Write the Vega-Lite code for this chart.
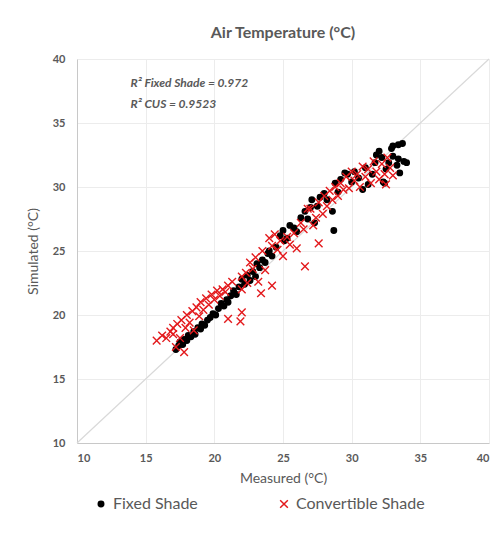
{
  "$schema": "https://vega.github.io/schema/vega-lite/v6.json",
  "width": 412,
  "height": 384,
  "autosize": "none",
  "padding": {"left": 77, "top": 59, "right": 8, "bottom": 94},
  "background": "white",
  "title": {"text": "Air Temperature (°C)", "fontSize": 16, "font": "Lato", "fontWeight": "bold", "color": "#595959", "anchor": "middle", "offset": 12},
  "config": {
    "font": "Lato",
    "view": {"stroke": null},
    "axis": {"gridColor": "#ececec", "domainColor": "#c8c8c8", "ticks": false, "labelColor": "#595959", "labelFont": "Lato", "labelFontWeight": "bold", "labelFontSize": 11, "titleColor": "#595959", "titleFont": "Lato", "titleFontWeight": "normal", "titleFontSize": 14}
  },
  "datasets": {
    "points": [
      {"series": "Fixed Shade", "measured": 17.2, "simulated": 17.3},
      {"series": "Fixed Shade", "measured": 17.4, "simulated": 17.6},
      {"series": "Fixed Shade", "measured": 17.5, "simulated": 17.9},
      {"series": "Fixed Shade", "measured": 17.7, "simulated": 17.7},
      {"series": "Fixed Shade", "measured": 17.8, "simulated": 18.1},
      {"series": "Fixed Shade", "measured": 18.0, "simulated": 18.0},
      {"series": "Fixed Shade", "measured": 18.1, "simulated": 18.4},
      {"series": "Fixed Shade", "measured": 18.3, "simulated": 18.3},
      {"series": "Fixed Shade", "measured": 18.5, "simulated": 18.7},
      {"series": "Fixed Shade", "measured": 18.6, "simulated": 18.5},
      {"series": "Fixed Shade", "measured": 18.8, "simulated": 19.0},
      {"series": "Fixed Shade", "measured": 19.0, "simulated": 18.9},
      {"series": "Fixed Shade", "measured": 19.1, "simulated": 19.3},
      {"series": "Fixed Shade", "measured": 19.3, "simulated": 19.2},
      {"series": "Fixed Shade", "measured": 19.5, "simulated": 19.6},
      {"series": "Fixed Shade", "measured": 19.7, "simulated": 19.8},
      {"series": "Fixed Shade", "measured": 19.9, "simulated": 20.1},
      {"series": "Fixed Shade", "measured": 20.1, "simulated": 20.0},
      {"series": "Fixed Shade", "measured": 20.3, "simulated": 20.5},
      {"series": "Fixed Shade", "measured": 20.5, "simulated": 20.9},
      {"series": "Fixed Shade", "measured": 20.7, "simulated": 20.7},
      {"series": "Fixed Shade", "measured": 20.9, "simulated": 21.2},
      {"series": "Fixed Shade", "measured": 21.0, "simulated": 21.0},
      {"series": "Fixed Shade", "measured": 21.2, "simulated": 21.5},
      {"series": "Fixed Shade", "measured": 21.4, "simulated": 21.9},
      {"series": "Fixed Shade", "measured": 21.6, "simulated": 21.6},
      {"series": "Fixed Shade", "measured": 21.8, "simulated": 22.2},
      {"series": "Fixed Shade", "measured": 22.0, "simulated": 22.8},
      {"series": "Fixed Shade", "measured": 22.2, "simulated": 22.4},
      {"series": "Fixed Shade", "measured": 22.4, "simulated": 23.1},
      {"series": "Fixed Shade", "measured": 22.6, "simulated": 22.7},
      {"series": "Fixed Shade", "measured": 22.8, "simulated": 23.4},
      {"series": "Fixed Shade", "measured": 23.0, "simulated": 23.0},
      {"series": "Fixed Shade", "measured": 23.1, "simulated": 24.0},
      {"series": "Fixed Shade", "measured": 23.3, "simulated": 23.7},
      {"series": "Fixed Shade", "measured": 23.5, "simulated": 24.3},
      {"series": "Fixed Shade", "measured": 23.7, "simulated": 24.1},
      {"series": "Fixed Shade", "measured": 23.9, "simulated": 24.8},
      {"series": "Fixed Shade", "measured": 24.0, "simulated": 25.0},
      {"series": "Fixed Shade", "measured": 24.2, "simulated": 24.6},
      {"series": "Fixed Shade", "measured": 24.5, "simulated": 25.3},
      {"series": "Fixed Shade", "measured": 24.8, "simulated": 26.2},
      {"series": "Fixed Shade", "measured": 25.0, "simulated": 26.6},
      {"series": "Fixed Shade", "measured": 25.1, "simulated": 25.8},
      {"series": "Fixed Shade", "measured": 25.3, "simulated": 26.0},
      {"series": "Fixed Shade", "measured": 25.5, "simulated": 27.0},
      {"series": "Fixed Shade", "measured": 25.8, "simulated": 26.8},
      {"series": "Fixed Shade", "measured": 26.0, "simulated": 26.5},
      {"series": "Fixed Shade", "measured": 26.3, "simulated": 27.6},
      {"series": "Fixed Shade", "measured": 26.6, "simulated": 28.1},
      {"series": "Fixed Shade", "measured": 26.8, "simulated": 27.5},
      {"series": "Fixed Shade", "measured": 27.0, "simulated": 28.4},
      {"series": "Fixed Shade", "measured": 27.1, "simulated": 29.0},
      {"series": "Fixed Shade", "measured": 27.3, "simulated": 27.2},
      {"series": "Fixed Shade", "measured": 27.5, "simulated": 28.5},
      {"series": "Fixed Shade", "measured": 27.7, "simulated": 29.2},
      {"series": "Fixed Shade", "measured": 28.0, "simulated": 29.5},
      {"series": "Fixed Shade", "measured": 28.2, "simulated": 29.0},
      {"series": "Fixed Shade", "measured": 28.6, "simulated": 28.1},
      {"series": "Fixed Shade", "measured": 28.7, "simulated": 26.6},
      {"series": "Fixed Shade", "measured": 28.8, "simulated": 30.3},
      {"series": "Fixed Shade", "measured": 29.0, "simulated": 29.6},
      {"series": "Fixed Shade", "measured": 29.2, "simulated": 30.6},
      {"series": "Fixed Shade", "measured": 29.5, "simulated": 31.1},
      {"series": "Fixed Shade", "measured": 29.7, "simulated": 31.0},
      {"series": "Fixed Shade", "measured": 30.0, "simulated": 30.4},
      {"series": "Fixed Shade", "measured": 30.2, "simulated": 31.2},
      {"series": "Fixed Shade", "measured": 30.5, "simulated": 30.7},
      {"series": "Fixed Shade", "measured": 30.8, "simulated": 29.8},
      {"series": "Fixed Shade", "measured": 31.0, "simulated": 31.5},
      {"series": "Fixed Shade", "measured": 31.2, "simulated": 30.2},
      {"series": "Fixed Shade", "measured": 31.5, "simulated": 31.0},
      {"series": "Fixed Shade", "measured": 31.7, "simulated": 31.9},
      {"series": "Fixed Shade", "measured": 31.8, "simulated": 32.5},
      {"series": "Fixed Shade", "measured": 32.0, "simulated": 32.8},
      {"series": "Fixed Shade", "measured": 32.2, "simulated": 32.3},
      {"series": "Fixed Shade", "measured": 32.4, "simulated": 30.3},
      {"series": "Fixed Shade", "measured": 32.5, "simulated": 31.4},
      {"series": "Fixed Shade", "measured": 32.7, "simulated": 31.9},
      {"series": "Fixed Shade", "measured": 32.9, "simulated": 33.0},
      {"series": "Fixed Shade", "measured": 33.0, "simulated": 33.2},
      {"series": "Fixed Shade", "measured": 33.0, "simulated": 32.4},
      {"series": "Fixed Shade", "measured": 33.3, "simulated": 31.7},
      {"series": "Fixed Shade", "measured": 33.5, "simulated": 31.1},
      {"series": "Fixed Shade", "measured": 33.4, "simulated": 32.2},
      {"series": "Fixed Shade", "measured": 33.7, "simulated": 33.4},
      {"series": "Fixed Shade", "measured": 33.4, "simulated": 33.3},
      {"series": "Fixed Shade", "measured": 34.0, "simulated": 31.9},
      {"series": "Fixed Shade", "measured": 33.8, "simulated": 32.0},
      {"series": "Fixed Shade", "measured": 32.3, "simulated": 30.4},
      {"series": "Convertible Shade", "measured": 15.8, "simulated": 18.0},
      {"series": "Convertible Shade", "measured": 16.2, "simulated": 18.4},
      {"series": "Convertible Shade", "measured": 16.5, "simulated": 18.2},
      {"series": "Convertible Shade", "measured": 16.8, "simulated": 18.7},
      {"series": "Convertible Shade", "measured": 17.0, "simulated": 18.5},
      {"series": "Convertible Shade", "measured": 17.0, "simulated": 19.0},
      {"series": "Convertible Shade", "measured": 17.2, "simulated": 17.5},
      {"series": "Convertible Shade", "measured": 17.3, "simulated": 19.3},
      {"series": "Convertible Shade", "measured": 17.5, "simulated": 18.2},
      {"series": "Convertible Shade", "measured": 17.6, "simulated": 19.6},
      {"series": "Convertible Shade", "measured": 17.8, "simulated": 17.1},
      {"series": "Convertible Shade", "measured": 17.9, "simulated": 19.0},
      {"series": "Convertible Shade", "measured": 18.0, "simulated": 20.0},
      {"series": "Convertible Shade", "measured": 18.2, "simulated": 19.4},
      {"series": "Convertible Shade", "measured": 18.4, "simulated": 20.3},
      {"series": "Convertible Shade", "measured": 18.5, "simulated": 18.8},
      {"series": "Convertible Shade", "measured": 18.7, "simulated": 20.6},
      {"series": "Convertible Shade", "measured": 18.9, "simulated": 19.9},
      {"series": "Convertible Shade", "measured": 19.0, "simulated": 21.0},
      {"series": "Convertible Shade", "measured": 19.2, "simulated": 20.4},
      {"series": "Convertible Shade", "measured": 19.4, "simulated": 21.3},
      {"series": "Convertible Shade", "measured": 19.6, "simulated": 20.8},
      {"series": "Convertible Shade", "measured": 19.8, "simulated": 21.6},
      {"series": "Convertible Shade", "measured": 20.0, "simulated": 21.2},
      {"series": "Convertible Shade", "measured": 20.2, "simulated": 21.9},
      {"series": "Convertible Shade", "measured": 20.4, "simulated": 21.5},
      {"series": "Convertible Shade", "measured": 20.6, "simulated": 22.0},
      {"series": "Convertible Shade", "measured": 20.8, "simulated": 21.8},
      {"series": "Convertible Shade", "measured": 21.0, "simulated": 22.3},
      {"series": "Convertible Shade", "measured": 21.0, "simulated": 19.7},
      {"series": "Convertible Shade", "measured": 21.3, "simulated": 22.6},
      {"series": "Convertible Shade", "measured": 21.9, "simulated": 19.5},
      {"series": "Convertible Shade", "measured": 22.0, "simulated": 20.2},
      {"series": "Convertible Shade", "measured": 22.0, "simulated": 22.0},
      {"series": "Convertible Shade", "measured": 22.0, "simulated": 23.0},
      {"series": "Convertible Shade", "measured": 22.3, "simulated": 23.3},
      {"series": "Convertible Shade", "measured": 22.4, "simulated": 22.5},
      {"series": "Convertible Shade", "measured": 22.6, "simulated": 24.1},
      {"series": "Convertible Shade", "measured": 22.8, "simulated": 23.6},
      {"series": "Convertible Shade", "measured": 23.0, "simulated": 24.5},
      {"series": "Convertible Shade", "measured": 23.2, "simulated": 22.6},
      {"series": "Convertible Shade", "measured": 23.4, "simulated": 21.7},
      {"series": "Convertible Shade", "measured": 23.5, "simulated": 25.0},
      {"series": "Convertible Shade", "measured": 23.7, "simulated": 23.5},
      {"series": "Convertible Shade", "measured": 24.2, "simulated": 22.3},
      {"series": "Convertible Shade", "measured": 24.0, "simulated": 26.0},
      {"series": "Convertible Shade", "measured": 24.2, "simulated": 25.4},
      {"series": "Convertible Shade", "measured": 24.4, "simulated": 26.3},
      {"series": "Convertible Shade", "measured": 24.6, "simulated": 25.1},
      {"series": "Convertible Shade", "measured": 24.8, "simulated": 25.8},
      {"series": "Convertible Shade", "measured": 25.0, "simulated": 24.6},
      {"series": "Convertible Shade", "measured": 25.3, "simulated": 26.1},
      {"series": "Convertible Shade", "measured": 25.5, "simulated": 25.5},
      {"series": "Convertible Shade", "measured": 25.8, "simulated": 26.4},
      {"series": "Convertible Shade", "measured": 26.0, "simulated": 25.2},
      {"series": "Convertible Shade", "measured": 26.3, "simulated": 27.2},
      {"series": "Convertible Shade", "measured": 26.5, "simulated": 26.7},
      {"series": "Convertible Shade", "measured": 26.6, "simulated": 23.8},
      {"series": "Convertible Shade", "measured": 26.8, "simulated": 28.3},
      {"series": "Convertible Shade", "measured": 27.0, "simulated": 28.3},
      {"series": "Convertible Shade", "measured": 27.2, "simulated": 27.0},
      {"series": "Convertible Shade", "measured": 27.4, "simulated": 27.6},
      {"series": "Convertible Shade", "measured": 27.6, "simulated": 28.8},
      {"series": "Convertible Shade", "measured": 27.6, "simulated": 25.6},
      {"series": "Convertible Shade", "measured": 27.9, "simulated": 27.9},
      {"series": "Convertible Shade", "measured": 28.0, "simulated": 29.3},
      {"series": "Convertible Shade", "measured": 28.2, "simulated": 28.5},
      {"series": "Convertible Shade", "measured": 28.4, "simulated": 29.7},
      {"series": "Convertible Shade", "measured": 28.6, "simulated": 29.0},
      {"series": "Convertible Shade", "measured": 28.8, "simulated": 30.0},
      {"series": "Convertible Shade", "measured": 29.0, "simulated": 29.3},
      {"series": "Convertible Shade", "measured": 29.2, "simulated": 30.3},
      {"series": "Convertible Shade", "measured": 29.4, "simulated": 29.8},
      {"series": "Convertible Shade", "measured": 29.6, "simulated": 30.8},
      {"series": "Convertible Shade", "measured": 29.8, "simulated": 29.9},
      {"series": "Convertible Shade", "measured": 30.0, "simulated": 31.2},
      {"series": "Convertible Shade", "measured": 30.2, "simulated": 30.5},
      {"series": "Convertible Shade", "measured": 30.4, "simulated": 31.0},
      {"series": "Convertible Shade", "measured": 30.6, "simulated": 30.0},
      {"series": "Convertible Shade", "measured": 30.8, "simulated": 31.6},
      {"series": "Convertible Shade", "measured": 31.0, "simulated": 30.8},
      {"series": "Convertible Shade", "measured": 31.2, "simulated": 31.4},
      {"series": "Convertible Shade", "measured": 31.4, "simulated": 30.3},
      {"series": "Convertible Shade", "measured": 31.6, "simulated": 32.0},
      {"series": "Convertible Shade", "measured": 31.8, "simulated": 31.2},
      {"series": "Convertible Shade", "measured": 32.0, "simulated": 30.6},
      {"series": "Convertible Shade", "measured": 32.2, "simulated": 31.8},
      {"series": "Convertible Shade", "measured": 32.4, "simulated": 31.0},
      {"series": "Convertible Shade", "measured": 32.6, "simulated": 32.3},
      {"series": "Convertible Shade", "measured": 32.8, "simulated": 31.5},
      {"series": "Convertible Shade", "measured": 33.0, "simulated": 30.9},
      {"series": "Convertible Shade", "measured": 32.5, "simulated": 30.2}
    ],
    "diagonal": [{"measured": 10, "simulated": 10}, {"measured": 40, "simulated": 40}],
    "notes": [
      {"measured": 13.9, "simulated": 38.1, "label": "R² Fixed Shade  = 0.972"},
      {"measured": 13.9, "simulated": 36.5, "label": "R² CUS = 0.9523"}
    ]
  },
  "layer": [
    {
      "data": {"name": "diagonal"},
      "mark": {"type": "line", "color": "#d9d9d9", "strokeWidth": 1.2},
      "encoding": {
        "x": {"field": "measured", "type": "quantitative", "scale": {"domain": [10, 40], "nice": false}, "axis": {"title": "Measured (°C)", "values": [10, 15, 20, 25, 30, 35, 40], "labelPadding": 9, "titlePadding": 8}},
        "y": {"field": "simulated", "type": "quantitative", "scale": {"domain": [10, 40], "nice": false}, "axis": {"title": "Simulated (°C)", "values": [10, 15, 20, 25, 30, 35, 40], "labelPadding": 12, "titlePadding": 12, "domain": true}}
      }
    },
    {
      "data": {"name": "points"},
      "mark": {"type": "point", "filled": false, "strokeWidth": 1.4, "opacity": 1},
      "encoding": {
        "x": {"field": "measured", "type": "quantitative"},
        "y": {"field": "simulated", "type": "quantitative"},
        "color": {"field": "series", "type": "nominal", "scale": {"domain": ["Fixed Shade", "Convertible Shade"], "range": ["#000000", "#e3191c"]}, "legend": {"title": null, "orient": "none", "direction": "horizontal", "legendX": 16, "legendY": 437, "labelFontSize": 16, "labelColor": "#595959", "labelFont": "Lato", "columnPadding": 78, "symbolSize": 30, "labelOffset": 4}},
        "shape": {"field": "series", "type": "nominal", "scale": {"domain": ["Fixed Shade", "Convertible Shade"], "range": ["circle", "M-1.4,-1.4L1.4,1.4M-1.4,1.4L1.4,-1.4"]}, "legend": {"title": null, "orient": "none", "direction": "horizontal", "legendX": 16, "legendY": 437, "labelFontSize": 16, "labelColor": "#595959", "labelFont": "Lato", "columnPadding": 78, "symbolSize": 30, "labelOffset": 4}},
        "fill": {"field": "series", "type": "nominal", "scale": {"domain": ["Fixed Shade", "Convertible Shade"], "range": ["#000000", "transparent"]}, "legend": {"title": null, "orient": "none", "direction": "horizontal", "legendX": 16, "legendY": 437, "labelFontSize": 16, "labelColor": "#595959", "labelFont": "Lato", "columnPadding": 78, "symbolSize": 30, "labelOffset": 4}},
        "size": {"value": 30}
      }
    },
    {
      "data": {"name": "notes"},
      "mark": {"type": "text", "align": "left", "baseline": "middle", "fontStyle": "italic", "fontWeight": "bold", "fontSize": 12, "color": "#595959", "font": "Lato"},
      "encoding": {
        "x": {"field": "measured", "type": "quantitative"},
        "y": {"field": "simulated", "type": "quantitative"},
        "text": {"field": "label"}
      }
    }
  ]
}
